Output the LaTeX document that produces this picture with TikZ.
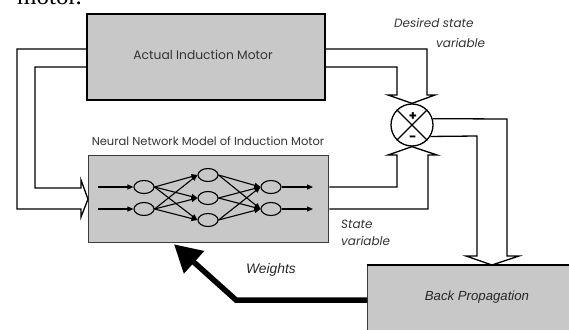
\documentclass[tikz,border=0pt]{standalone}
\usepackage{fontspec}
\setmainfont{Poppins}
\newfontfamily\seriff{Liberation Serif}
\newfontfamily\arialf{Liberation Sans}
\usetikzlibrary{arrows.meta,calc,shapes.geometric}
\definecolor{boxgray}{RGB}{200,200,200}
\definecolor{edgegray}{RGB}{60,60,60}
\tikzset{
  blockbox/.style={draw=black, line width=1.8pt, fill=boxgray, inner sep=0pt},
  nnbox/.style={draw=edgegray, line width=1.3pt, fill=boxgray, inner sep=0pt},
  lbl/.style={font=\fontsize{11.5}{13}\selectfont, text=black!80, inner sep=0pt},
  ilbl/.style={font=\itshape\fontsize{12}{14}\selectfont, text=black!80, inner sep=0pt},
  ln/.style={line width=1.3pt, line join=miter},
  neuron/.style={draw=black, line width=1.1pt, ellipse, minimum width=20pt, minimum height=13pt, inner sep=0pt},
  syn/.style={line width=1.1pt, -{Triangle[length=6pt,width=5pt]}},
}
\begin{document}
\begin{tikzpicture}[x=1pt,y=-1pt]
\useasboundingbox (0,0) rectangle (569,329);
\fill[white] (0,0) rectangle (569,329);

% caption fragment
\node[font=\seriff\fontsize{25}{25}\selectfont, anchor=base west, inner sep=0pt] (cap) at (17,5) {motor.};

% boxes
\node[blockbox, anchor=north west, minimum width=238pt, minimum height=86pt] (motor) at (86,13) {};
\node[lbl, font=\fontsize{12.3}{14}\selectfont] (motorlbl) at (203,55) {Actual Induction Motor};

\node[nnbox, anchor=north west, minimum width=240pt, minimum height=87pt] (nn) at (88,155) {};
\node[lbl] (nnlbl) at (208,141) {Neural Network Model of Induction Motor};

\node[draw=edgegray, line width=1pt, fill=boxgray, anchor=north west, minimum width=230pt, minimum height=70pt, inner sep=0pt] (bp) at (367,265) {};
\draw[line width=1.8pt] (bp.north west) -- (bp.north east);
\node[font=\arialf\itshape\fontsize{13.2}{15}\selectfont, text=black!85, inner sep=0pt] (bplbl) at (477,297) {Back Propagation};

% summing junction
\node[draw=black, line width=1.3pt, circle, minimum size=42pt, inner sep=0pt] (sum) at (412,125) {};
\draw[line width=1.3pt] (sum.north west) -- (sum.south east) (sum.north east) -- (sum.south west);
\node[font=\bfseries\fontsize{13}{13}\selectfont, inner sep=0pt] (plus) at (413,117) {+};
\node[font=\bfseries\fontsize{13}{13}\selectfont, inner sep=0pt] (minus) at (413,139) {-};

% texts
\node[ilbl, align=left, anchor=north west] (desired) at (394,18) {Desired state\\[6pt]\hspace*{42pt}variable};
\node[ilbl, align=left, anchor=north west] (statev) at (341,220) {State\\[3pt]variable};
\node[font=\arialf\itshape\fontsize{13.8}{15}\selectfont, text=black!85, inner sep=0pt] (wlbl) at (271,270) {Weights};

% motor -> sum (hollow double-line arrow)
\coordinate (m1) at ($(motor.north east)+(0,36)$);
\coordinate (m2) at ($(motor.north east)+(0,54)$);
\draw[ln] (m1) -- (427,49) -- (427,95) -- (435,95) -- (sum.north);
\draw[ln] (m2) -- (397,67) -- (397,95) -- (388,95) -- (sum.north);

% motor -> nn (hollow double-line arrow)
\coordinate (m3) at ($(motor.north west)+(0,36)$);
\coordinate (m4) at ($(motor.north west)+(0,54)$);
\draw[ln] (m3) -- (17,49) -- (17,209) -- (81,209) -- (81,217) -- (nn.west);
\draw[ln] (m4) -- (35,67) -- (35,188) -- (81,188) -- (81,180) -- (nn.west);

% nn -> sum
\coordinate (n1) at ($(nn.north east)+(0,32)$);
\coordinate (n2) at ($(nn.north east)+(0,54)$);
\draw[ln] (n1) -- (397,187) -- (397,155) -- (388,155) -- (sum.south);
\draw[ln] (n2) -- (428,209) -- (428,155) -- (437,155) -- (sum.south);

% sum -> back propagation
\coordinate (bptip) at ($(bp.north west)+(125,0)$);
\draw[ln] (sum.17) -- (507,119) -- (507,256) -- (519,256) -- (bptip);
\draw[ln] (sum.-32) -- (477,136) -- (477,256) -- (466,256) -- (bptip);

% weights arrow
\coordinate (wstart) at ($(bp.north west)+(0,35)$);
\coordinate (wtip) at ($(nn.south west)+(86,1)$);
\draw[line width=5.5pt, line join=miter, -{Triangle[length=27pt,width=29pt]}] (wstart) -- (236,300) -- (wtip);

% neural network
\node[neuron] (i1) at (144,187) {};
\node[neuron] (i2) at (144,209) {};
\node[neuron] (h1) at (208,175) {};
\node[neuron] (h2) at (208,198) {};
\node[neuron] (h3) at (208,220) {};
\node[neuron] (o1) at (271,187) {};
\node[neuron] (o2) at (271,209) {};
\coordinate (x1) at ($(nn.north west)+(10,32)$);
\coordinate (x2) at ($(nn.north west)+(10,54)$);
\coordinate (y1) at ($(nn.north west)+(225,32)$);
\coordinate (y2) at ($(nn.north west)+(225,54)$);
\draw[syn] (x1) -- (i1.west);
\draw[syn] (x2) -- (i2.west);
\foreach \a in {i1,i2}{\foreach \b in {h1,h2,h3}{\draw[syn] (\a.east) -- (\b.west);}}
\foreach \a in {h1,h2,h3}{\foreach \b in {o1,o2}{\draw[syn] (\a.east) -- (\b.west);}}
\draw[syn] (o1.east) -- (y1);
\draw[syn] (o2.east) -- (y2);
\end{tikzpicture}
\end{document}
